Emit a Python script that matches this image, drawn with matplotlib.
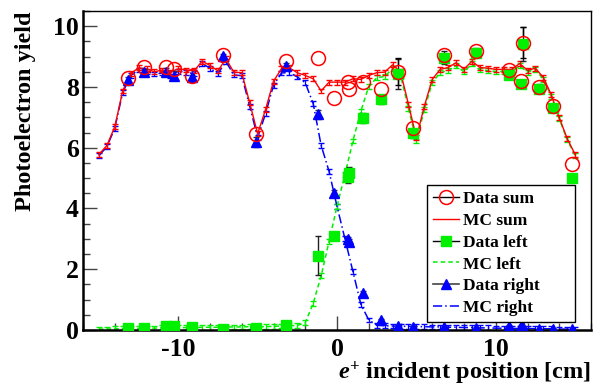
import matplotlib
matplotlib.use("Agg")
import matplotlib.pyplot as plt
from matplotlib.lines import Line2D
from matplotlib.ticker import MultipleLocator

plt.rcParams['font.family'] = ['Liberation Serif', 'DejaVu Serif']
plt.rcParams['font.weight'] = 'bold'
plt.rcParams['axes.labelweight'] = 'bold'
plt.rcParams['mathtext.fontset'] = 'custom'
plt.rcParams['mathtext.it'] = 'Liberation Serif:italic:bold'
plt.rcParams['mathtext.rm'] = 'Liberation Serif:bold'
plt.rcParams['axes.unicode_minus'] = False

# MC points, every 0.5 cm
mc_x = [-15, -14.5, -14, -13.5, -13, -12.5, -12, -11.5, -11, -10.5,
        -10, -9.5, -9, -8.5, -8, -7.5, -7, -6.5, -6, -5.5,
        -5, -4.5, -4, -3.5, -3, -2.5, -2, -1.5, -1, -0.5,
        0, 0.5, 1, 1.5, 2, 2.5, 3, 3.5, 4, 4.5,
        5, 5.5, 6, 6.5, 7, 7.5, 8, 8.5, 9, 9.5,
        10, 10.5, 11, 11.5, 12, 12.5, 13, 13.5, 14, 14.5, 15]
mc_sum = [5.78, 6.07, 6.69, 7.87, 8.44, 8.63, 8.60, 8.50, 8.56, 8.49,
          8.60, 8.56, 8.53, 8.85, 8.71, 8.53, 8.93, 8.49, 8.47, 7.48,
          6.46, 7.26, 8.19, 8.60, 8.63, 8.47, 8.38, 8.27, 7.87, 8.16,
          8.16, 8.16, 8.27, 8.25, 8.38, 8.47, 8.49, 8.73, 8.50, 7.43,
          6.33, 7.37, 8.25, 8.58, 8.64, 8.80, 8.59, 8.85, 8.64, 8.62,
          8.58, 8.58, 8.58, 8.77, 8.55, 8.62, 8.31, 7.74, 6.99, 6.30, 5.78]
mc_left = [0.03, 0.03, 0.04, 0.04, 0.05, 0.05, 0.06, 0.06, 0.07, 0.07,
           0.08, 0.08, 0.08, 0.09, 0.09, 0.09, 0.10, 0.10, 0.10, 0.11,
           0.10, 0.11, 0.12, 0.13, 0.14, 0.15, 0.24, 0.88, 1.78, 2.92,
           4.07, 5.12, 6.22, 7.20, 8.02, 8.30, 8.35, 8.60, 8.38, 7.30,
           6.22, 7.25, 8.15, 8.47, 8.54, 8.70, 8.50, 8.76, 8.56, 8.54,
           8.51, 8.51, 8.52, 8.70, 8.49, 8.57, 8.26, 7.69, 6.95, 6.26, 5.74]
mc_right = [5.74, 6.03, 6.64, 7.82, 8.38, 8.56, 8.52, 8.43, 8.46, 8.36,
            8.52, 8.48, 8.44, 8.77, 8.62, 8.44, 8.84, 8.40, 8.37, 7.37,
            6.34, 7.12, 8.06, 8.46, 8.48, 8.33, 8.14, 7.45, 6.08, 5.22,
            4.07, 3.00, 1.93, 0.85, 0.33, 0.16, 0.14, 0.13, 0.12, 0.12,
            0.11, 0.11, 0.10, 0.10, 0.09, 0.09, 0.08, 0.08, 0.07, 0.07,
            0.06, 0.06, 0.05, 0.05, 0.05, 0.04, 0.04, 0.04, 0.03, 0.03, 0.03]
mc_err = 0.08

# data points
data_x = [-13.15, -12.14, -10.76, -10.28, -9.15, -7.18, -5.08, -3.2, -1.22, -0.22,
          0.68, 0.76, 1.65, 2.74, 3.86, 4.78, 6.76, 8.73, 10.85, 11.62,
          11.74, 12.75, 13.62, 14.82]
data_sum = [8.31, 8.66, 8.66, 8.58, 8.35, 9.04, 6.46, 8.86, 8.96, 7.64,
            8.15, 7.94, 8.16, 7.92, 8.50, 6.66, 9.05, 9.18, 8.56, 8.20,
            9.46, 7.99, 7.36, 5.47]
data_sum_err = [0.08, 0.10, 0.10, 0.10, 0.08, 0.08, 0.10, 0.10, 0.22, 0.10,
                0.15, 0.15, 0.12, 0.12, 0.45, 0.12, 0.15, 0.15, 0.10, 0.12,
                0.50, 0.12, 0.10, 0.08]
data_left = [0.05, 0.06, 0.14, 0.14, 0.09, 0.03, 0.07, 0.17, 2.45, 3.10,
             5.05, 5.18, 6.98, 7.59, 8.42, 6.47, 8.97, 9.13, 8.38, 8.10,
             9.41, 7.94, 7.32, 5.00]
data_left_err = [0.03, 0.03, 0.03, 0.03, 0.03, 0.03, 0.03, 0.03, 0.65, 0.08,
                 0.20, 0.20, 0.18, 0.15, 0.50, 0.15, 0.20, 0.15, 0.12, 0.12,
                 0.55, 0.15, 0.10, 0.05]
data_right = [8.24, 8.49, 8.51, 8.37, 8.32, 9.02, 6.19, 8.69, 7.10, 4.52,
              2.98, 2.90, 1.21, 0.33, 0.13, 0.11, 0.09, 0.06, 0.13, 0.12,
              0.10, 0.02, 0.02, 0.02]
data_right_err = [0.08, 0.10, 0.10, 0.15, 0.08, 0.08, 0.15, 0.10, 0.15, 0.08,
                  0.08, 0.08, 0.06, 0.04, 0.03, 0.03, 0.03, 0.03, 0.03, 0.03,
                  0.03, 0.02, 0.02, 0.02]

red = '#ff0000'
green = '#00f000'
blue = '#0000ff'

fig = plt.figure(figsize=(5.95, 3.88), dpi=100)
ax = fig.add_axes([0.1395, 0.1495, 0.8538, 0.822])

# MC curves with small error bars
ax.errorbar(mc_x, mc_right, yerr=mc_err, color=blue, lw=1.1, ls=(0, (6, 2, 1, 2)),
            capsize=2.2, elinewidth=0.9, zorder=2)
ax.errorbar(mc_x, mc_left, yerr=mc_err, color=green, lw=1.1, ls=(0, (3, 2)),
            capsize=2.2, elinewidth=0.9, zorder=2)
ax.errorbar(mc_x, mc_sum, yerr=mc_err, color=red, lw=1.0,
            capsize=2.2, elinewidth=0.9, zorder=3)

# data with black error bars
ax.errorbar(data_x, data_right, yerr=data_right_err, fmt='^', color=blue, ms=6.5,
            ecolor='#333333', elinewidth=1.0, capsize=2, zorder=5)
ax.errorbar(data_x, data_left, yerr=data_left_err, fmt='s', color=green, ms=6.5,
            ecolor='#222222', elinewidth=1.0, capsize=2, zorder=5)

# open circles: error bar only drawn outside the marker (like ROOT)
r = 0.23
for xi, yi, ei in zip(data_x, data_sum, data_sum_err):
    if ei > r:
        ax.vlines(xi, yi + r, yi + ei, color='black', lw=1.0, zorder=6)
        ax.vlines(xi, yi - ei, yi - r, color='black', lw=1.0, zorder=6)
        ax.plot([xi, xi], [yi - ei, yi + ei], ls='none', marker='_', ms=4,
                color='black', mew=1.0, zorder=6)
ax.plot(data_x, data_sum, 'o', mfc='none', mec=red, mew=1.1, ms=10, zorder=6)

ax.set_xlim(-16, 16)
ax.set_ylim(0, 10.5)
ax.xaxis.set_major_locator(MultipleLocator(10))
ax.xaxis.set_minor_locator(MultipleLocator(2))
ax.yaxis.set_major_locator(MultipleLocator(2))
ax.yaxis.set_minor_locator(MultipleLocator(0.5))
ax.tick_params(which='both', direction='in', top=False, right=False, labelsize=18.5,
               width=1.0, color='#444444')
ax.tick_params(which='major', length=10)
ax.tick_params(which='minor', length=5)
ax.tick_params(axis='x', pad=6)
ax.tick_params(axis='y', pad=3)
for s in ['left', 'bottom']:
    ax.spines[s].set_linewidth(1.8)
for s in ['top', 'right']:
    ax.spines[s].set_linewidth(1.0)

ax.set_xlabel(r'$e^{+}$ incident position [cm]', fontsize=17.5, loc='right', labelpad=-1.5)
ax.set_ylabel('Photoelectron yield', fontsize=17.5, loc='top', labelpad=12)

handles = [
    Line2D([], [], color='black', lw=1, marker='o', mfc='none', mec=red, ms=10, mew=1.1),
    Line2D([], [], color=red, lw=1),
    Line2D([], [], color='black', lw=1, marker='s', mfc=green, mec=green, ms=6.5),
    Line2D([], [], color=green, lw=1.1, ls=(0, (3, 2))),
    Line2D([], [], color='#444444', lw=1.2, marker='^', mfc=blue, mec=blue, ms=6.5),
    Line2D([], [], color=blue, lw=1.1, ls=(0, (6, 2, 1, 2))),
]
labels = ['Data sum', 'MC sum', 'Data left', 'MC left', 'Data right', 'MC right']
leg = ax.legend(handles, labels, loc='lower left', bbox_to_anchor=(0.677, 0.025, 0.292, 0.42),
                mode='expand', borderaxespad=0,
                fontsize=12.5, frameon=True, fancybox=False, edgecolor='black',
                framealpha=1, handlelength=1.5, handletextpad=0.25,
                labelspacing=0.32, borderpad=0.35)
leg.get_frame().set_linewidth(1.0)
leg.set_zorder(10)

fig.savefig('out.png', dpi=100)
